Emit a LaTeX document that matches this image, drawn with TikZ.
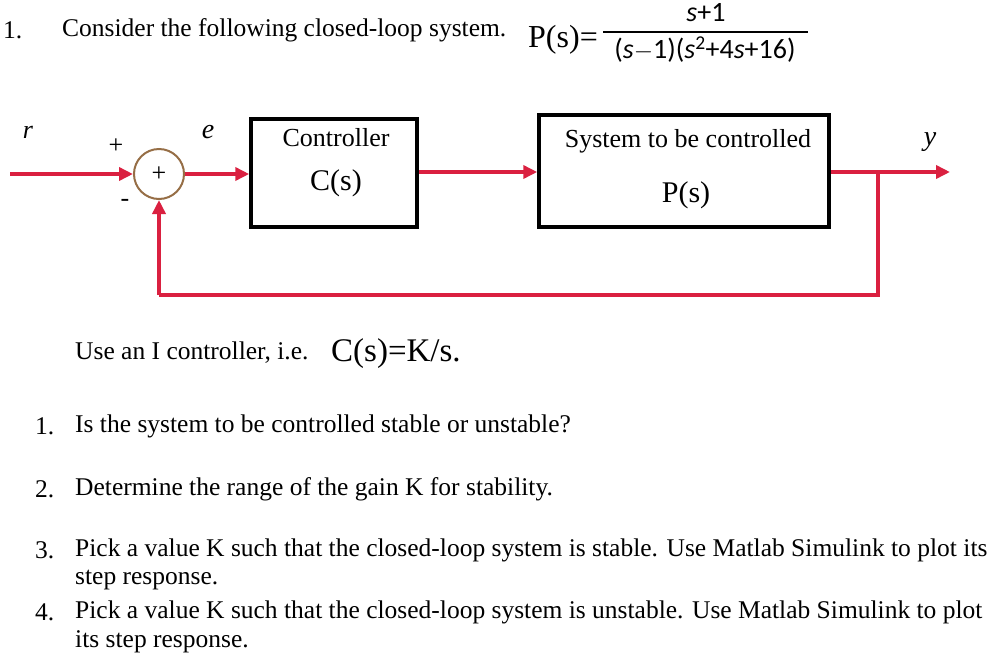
\documentclass[tikz,border=0pt]{standalone}
\usepackage{fontspec}
\setmainfont{Liberation Serif}
\newfontfamily\calib{Carlito}
\usetikzlibrary{arrows.meta}
\definecolor{sig}{RGB}{218,32,64}
\definecolor{ring}{RGB}{150,110,70}
\tikzset{
 txt/.style={anchor=west,inner sep=0,font=\fontsize{25.5}{27}\selectfont},
 blk/.style={draw,line width=3.5pt},
 wire/.style={draw=sig,line width=3.5pt,-{Triangle[length=14pt,width=13pt]}},
 line/.style={draw=sig,line width=3.5pt},
}
\begin{document}
\begin{tikzpicture}[x=1pt,y=-1pt]
\useasboundingbox (0,0) rectangle (1001,659);
\node[txt] (n1) at (3,30) {1.};
\node[txt] (cons) at (62,30) {Consider the following closed-loop system.};
\node[txt,font=\fontsize{32}{34}\selectfont] (ps) at (528,40) {P(s)=};
\draw[line width=1.3pt] (603,32) -- (808,32);
\node[font=\calib\fontsize{28}{30}\selectfont] (num) at (706,13) {\textit{s}+1};
\node[font=\calib\fontsize{28}{30}\selectfont] (den) at (705,50) {(\textit{s}$-$1)(\textit{s}\textsuperscript{2}+4\textit{s}+16)};
\node[font=\fontsize{26}{28}\selectfont\itshape] (r) at (28,132) {r};
\node[font=\fontsize{26}{28}\selectfont] (pl) at (116,146) {+};
\node[font=\fontsize{26}{28}\selectfont] (mi) at (125,203) {-};
\node[font=\fontsize{28}{28}\selectfont\itshape] (e) at (208,132) {e};
\node[draw=ring,line width=2pt,circle,minimum size=50pt,inner sep=0,font=\fontsize{26}{28}\selectfont] (sum) at (159,174) {+};
\node[blk,minimum width=166pt,minimum height=108pt] (ctl) at (334,173) {};
\node[font=\fontsize{26}{28}\selectfont] at (336,138) {Controller};
\node[font=\fontsize{30}{32}\selectfont] at (336,183) {C(s)};
\node[blk,minimum width=290pt,minimum height=112pt] (sys) at (684,171) {};
\node[font=\fontsize{26}{28}\selectfont] at (688,141) {System to be controlled};
\node[font=\fontsize{30}{32}\selectfont] at (686,195) {P(s)};
\node[font=\fontsize{28}{28}\selectfont\itshape] (y) at (930,142) {y};
\coordinate (in) at (10,174);
\coordinate (outE) at (950,172);
\coordinate (tap) at (878,172);
\coordinate (fb1) at (878,295);
\coordinate (fb2) at (159,295);
\draw[wire] (in) -- (sum.west);
\draw[wire] (sum.east) -- (sum.east -| ctl.west);
\draw[wire] (ctl.east |- 0,172) -- (sys.west |- 0,172);
\draw[wire] (sys.east |- 0,172) -- (outE);
\draw[line] (tap) -- (fb1) -- (fb2);
\draw[wire] (fb2) -- (sum.south);
\node[txt] (use) at (75,353) {Use an I controller, i.e.};
\node[txt,font=\fontsize{33}{35}\selectfont] (cks) at (331,354) {C(s)=K/s.};
\node[txt] (q1n) at (35,426) {1.};
\node[txt] (q1) at (75,426) {Is the system to be controlled stable or unstable?};
\node[txt] (q2n) at (35,489) {2.};
\node[txt] (q2) at (75,489) {Determine the range of the gain K for stability.};
\node[txt] (q3n) at (35,550) {3.};
\node[txt] (q3) at (75,550) {Pick a value K such that the closed-loop system is stable. Use Matlab Simulink to plot its};
\node[txt] (q3b) at (75,580) {step response.};
\node[txt] (q4n) at (35,612) {4.};
\node[txt] (q4) at (75,612) {Pick a value K such that the closed-loop system is unstable. Use Matlab Simulink to plot};
\node[txt] (q4b) at (75,642) {its step response.};
\end{tikzpicture}
\end{document}
